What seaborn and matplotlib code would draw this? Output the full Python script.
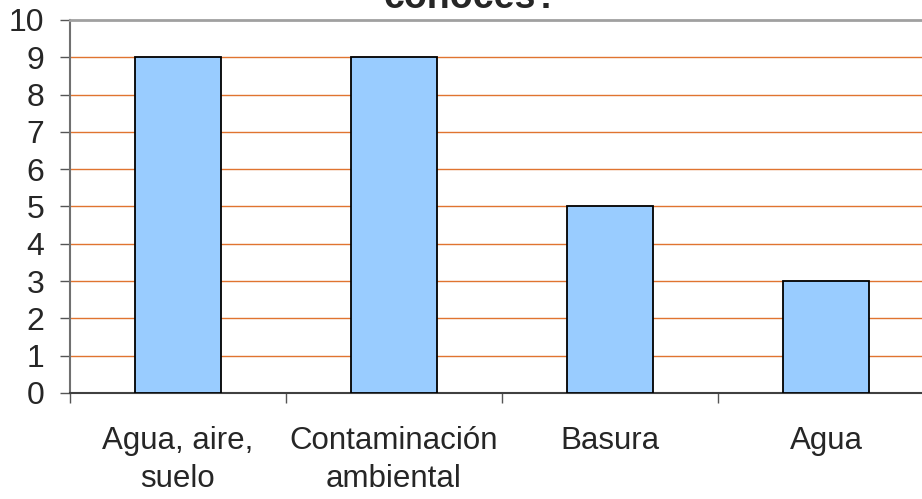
import numpy as np
import pandas as pd
import seaborn as sns
import matplotlib.pyplot as plt

categorias = ["Agua, aire,\nsuelo", "Contaminación\nambiental", "Basura", "Agua"]
valores = [9, 9, 5, 3]
titulo = "conoces?"

df = pd.DataFrame({"categoria": categorias, "valor": valores})

sns.set_style("white")
plt.rcParams['font.family'] = ['Liberation Sans', 'DejaVu Sans']

fig = plt.figure(figsize=(9.22, 4.99), dpi=100)
ax = fig.add_axes([70/922, 106/499, 864/922, 373/499])

sns.barplot(data=df, x="categoria", y="valor", order=categorias, color="#99CCFF",
            saturation=1, width=0.4, edgecolor="black", linewidth=1.3, ax=ax, zorder=3)

ax.set_xlim(-0.5, len(categorias) - 0.5)
ax.set_ylim(0, 10)
ax.set_yticks(range(0, 11))
ax.set_xlabel("")
ax.set_ylabel("")

# orange gridlines like the original
for v in range(1, 10):
    ax.axhline(v, color="#E07430", linewidth=1, zorder=1)

# category boundaries as ticks, labels in the middle without ticks
ax.set_xticks(np.arange(-0.5, len(categorias)), minor=True)
ax.tick_params(axis="x", which="minor", length=7.5, width=1, color="#555555", direction="out", bottom=True)
ax.tick_params(axis="x", which="major", length=0, pad=24, labelsize=22.5)
ax.tick_params(axis="y", length=7.5, width=1, color="#555555", direction="out", left=True, pad=11, labelsize=23)

for lab in ax.get_xticklabels():
    lab.set_multialignment("center")
    lab.set_linespacing(1.35)

ax.spines["top"].set_color("#A0A0A0")
ax.spines["top"].set_linewidth(2)
ax.spines["left"].set_color("#707070")
ax.spines["left"].set_linewidth(1.5)
ax.spines["bottom"].set_color("#404040")
ax.spines["bottom"].set_linewidth(1.5)
ax.spines["right"].set_visible(False)

fig.text(471/922, 1 - 8/499, titulo, ha="center", va="baseline", fontsize=27, fontweight="bold")

fig.savefig("out.png", dpi=100)
